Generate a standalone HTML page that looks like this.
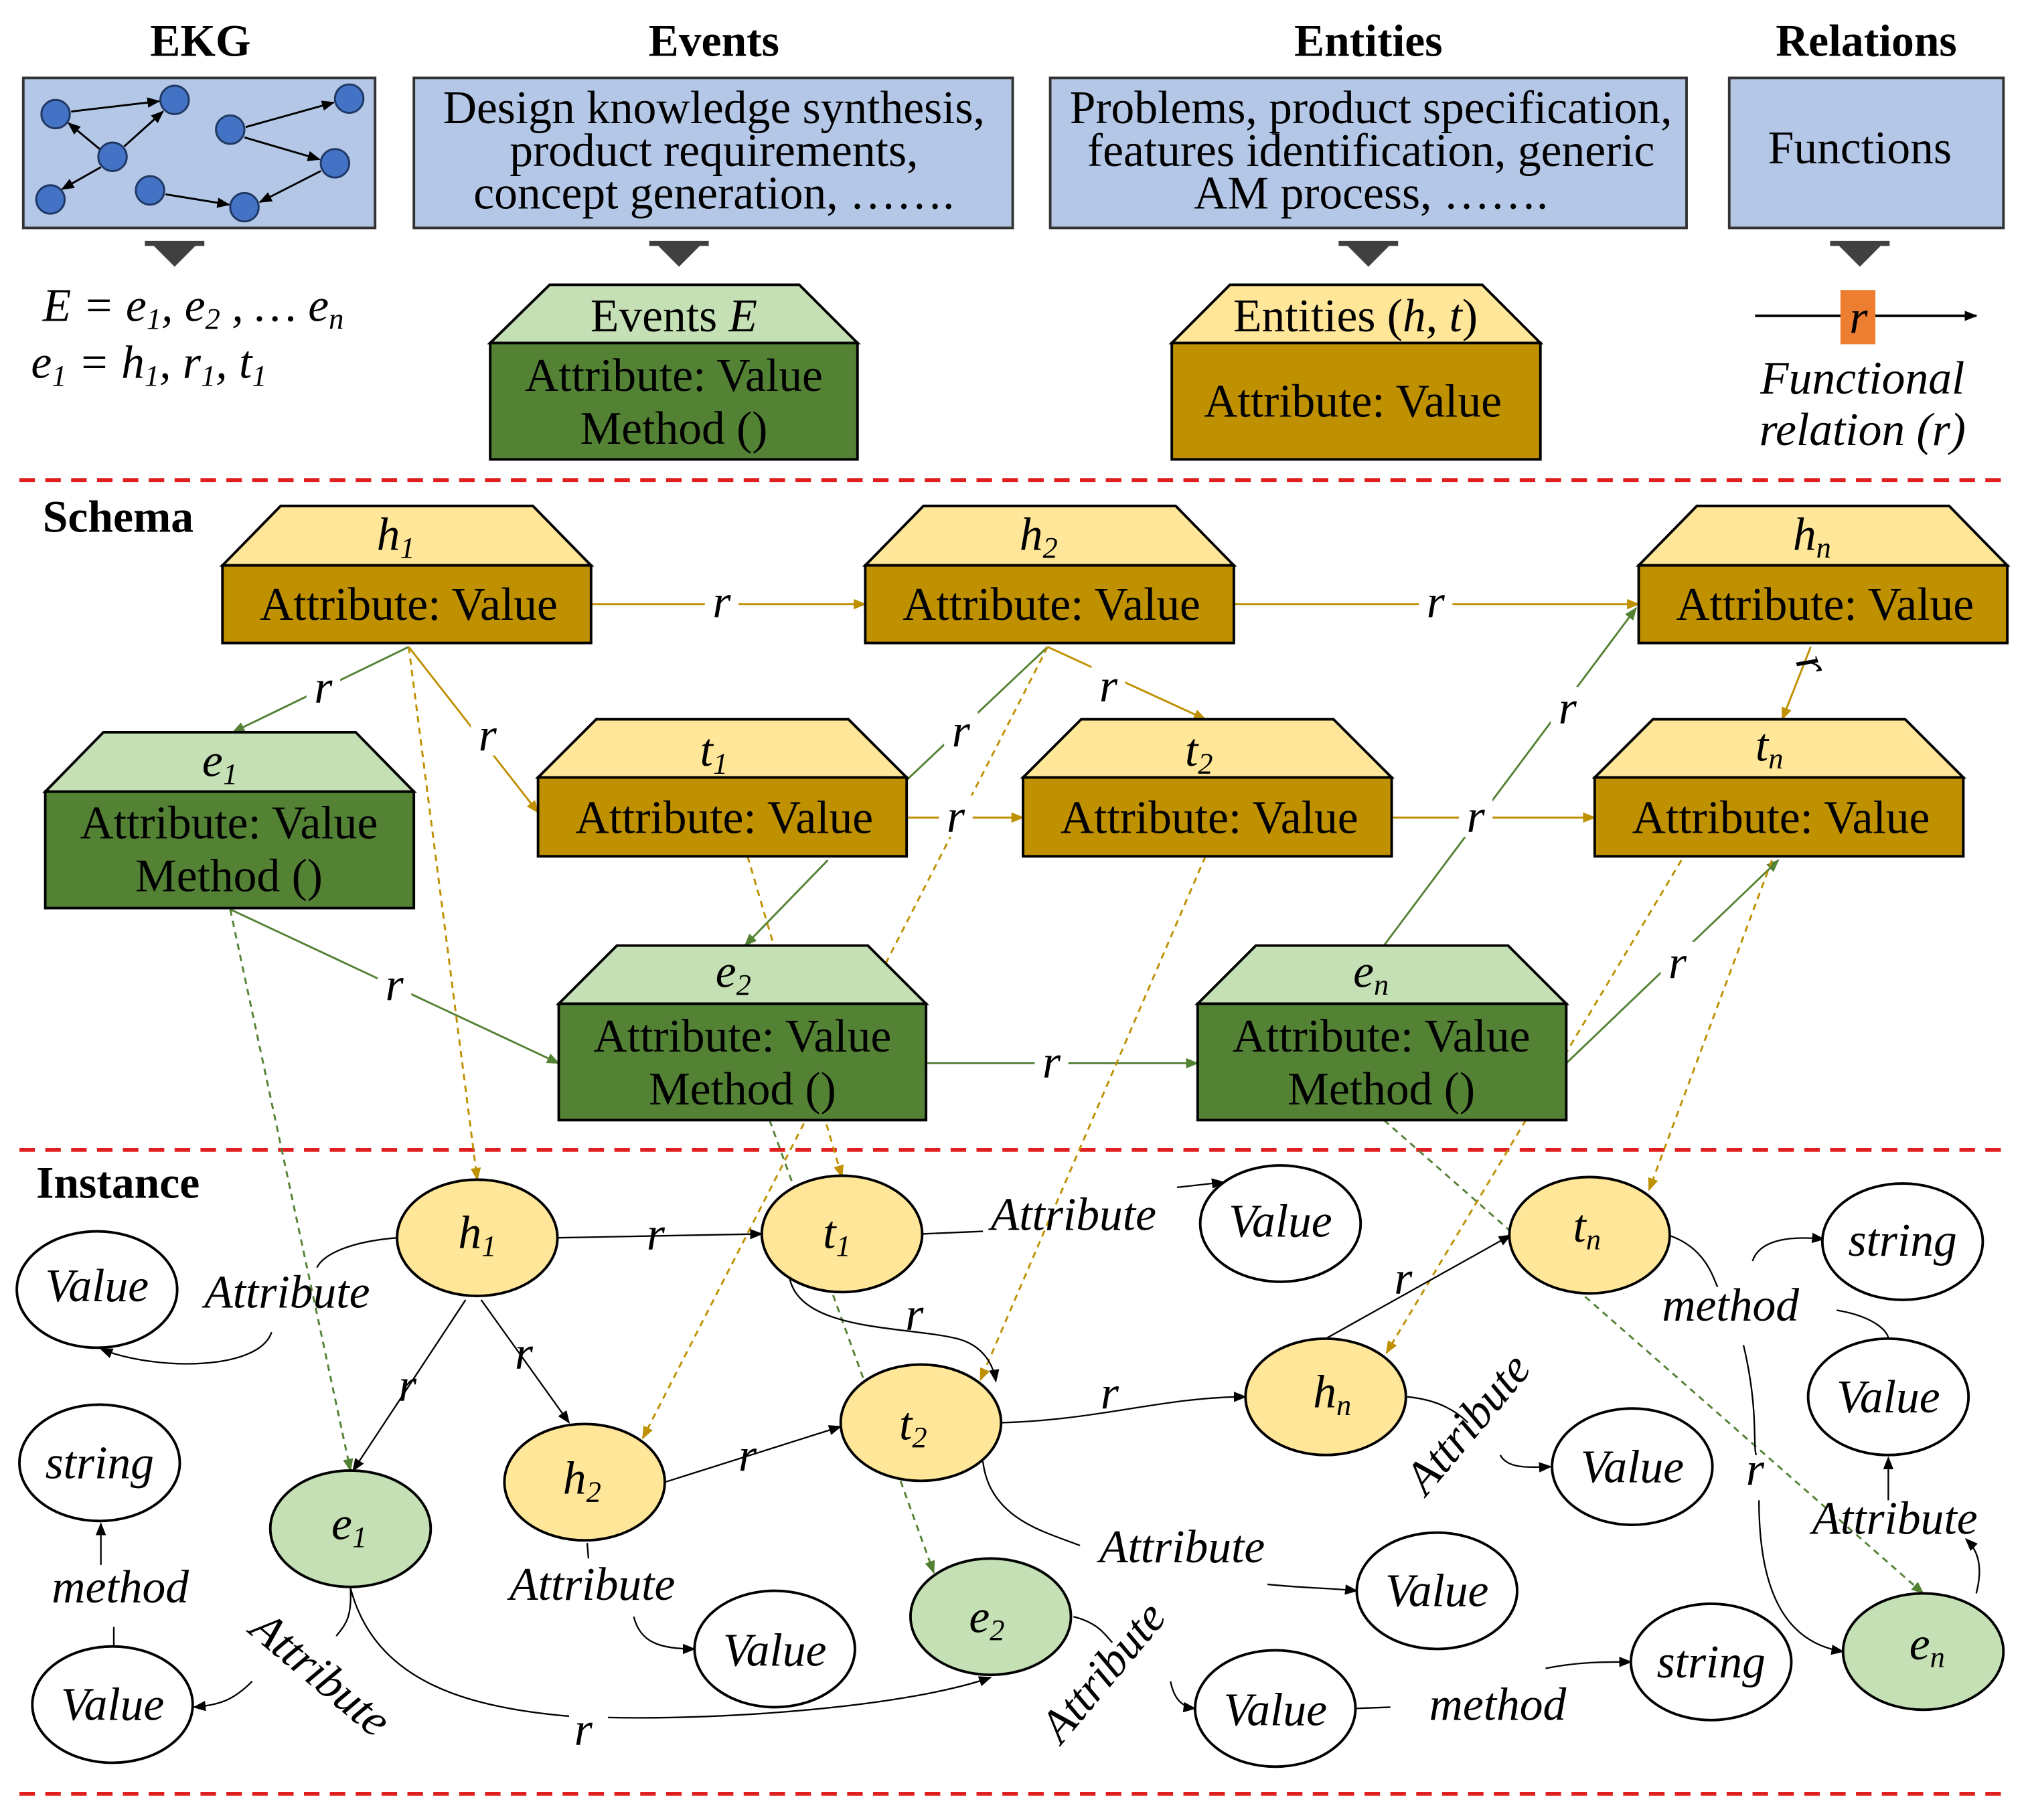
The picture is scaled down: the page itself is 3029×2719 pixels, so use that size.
<!DOCTYPE html>
<html><head><meta charset="utf-8"><style>
html,body{margin:0;padding:0;background:#fff}
svg{display:block}
text{font-family:"Liberation Serif",serif;fill:#000}
.h{font-weight:bold;font-size:35px}
.b{font-size:36px}
.i{font-style:italic;font-size:36px}
</style></head><body>
<svg width="3029" height="2719" viewBox="0 0 1568 1407" xmlns="http://www.w3.org/2000/svg">
<defs>
<marker id="ak" markerWidth="10" markerHeight="8" refX="9" refY="4" orient="auto" markerUnits="userSpaceOnUse"><path d="M0,0L10,4L0,8z" fill="#000"/></marker>
<marker id="ag" markerWidth="10" markerHeight="8" refX="9" refY="4" orient="auto" markerUnits="userSpaceOnUse"><path d="M0,0L10,4L0,8z" fill="#bf9000"/></marker>
<marker id="agr" markerWidth="10" markerHeight="8" refX="9" refY="4" orient="auto" markerUnits="userSpaceOnUse"><path d="M0,0L10,4L0,8z" fill="#548235"/></marker>
</defs>
<g text-anchor="middle"><text x="155" y="43" class="h">EKG</text><text x="552" y="43" class="h">Events</text><text x="1058" y="43" class="h">Entities</text><text x="1443" y="43" class="h">Relations</text></g>
<g fill="#b4c7e7" stroke="#333" stroke-width="2">
<rect x="18" y="60" width="272" height="116"/><rect x="320" y="60" width="463" height="116"/><rect x="812" y="60" width="492" height="116"/><rect x="1337" y="60" width="212" height="116"/></g>
<g fill="#4472c4" stroke="#1f3864" stroke-width="1.5">
<circle cx="43" cy="88" r="11"/><circle cx="135" cy="77" r="11"/><circle cx="87" cy="121" r="11"/><circle cx="39" cy="154" r="11"/><circle cx="116" cy="147" r="11"/><circle cx="189" cy="160" r="11"/><circle cx="178" cy="100" r="11"/><circle cx="270" cy="76" r="11"/><circle cx="259" cy="126" r="11"/></g>
<g stroke="#000" stroke-width="1.5" marker-end="url(#ak)">
<line x1="55" y1="86" x2="123" y2="78"/><line x1="96" y1="113" x2="126" y2="86"/><line x1="77" y1="115" x2="53" y2="95"/><line x1="78" y1="129" x2="48" y2="146"/><line x1="128" y1="150" x2="177" y2="158"/><line x1="248" y1="132" x2="201" y2="156"/><line x1="190" y1="98" x2="258" y2="79"/><line x1="189" y1="106" x2="247" y2="123"/></g>
<g class="b" text-anchor="middle"><text x="552" y="95">Design knowledge synthesis,</text><text x="552" y="128">product requirements,</text><text x="552" y="161">concept generation, …….</text>
<text x="1060" y="95">Problems, product specification,</text><text x="1060" y="128">features identification, generic</text><text x="1060" y="161">AM process, …….</text><text x="1438" y="126">Functions</text></g>
<g fill="#404040"><path d="M117,188h36l-18,18z M112,186h46v4h-46z"/><path d="M507,188h36l-18,18z M502,186h46v4h-46z"/><path d="M1040,188h36l-18,18z M1035,186h46v4h-46z"/><path d="M1420,188h36l-18,18z M1415,186h46v4h-46z"/></g>
<text x="33" y="248" class="i">E  = e<tspan font-size="23" dy="6">1</tspan><tspan dy="-6">, e</tspan><tspan font-size="23" dy="6">2</tspan><tspan dy="-6"> , … e</tspan><tspan font-size="23" dy="6">n</tspan></text>
<text x="24" y="292" class="i">e<tspan font-size="23" dy="6">1</tspan><tspan dy="-6"> = h</tspan><tspan font-size="23" dy="6">1</tspan><tspan dy="-6">, r</tspan><tspan font-size="23" dy="6">1</tspan><tspan dy="-6">, t</tspan><tspan font-size="23" dy="6">1</tspan></text>
<polygon points="425,220 618,220 663,265 379,265" fill="#c5e0b4" stroke="#000" stroke-width="2"/><rect x="379" y="265" width="284" height="90" fill="#548235" stroke="#000" stroke-width="2"/>
<text x="521" y="256" class="b" text-anchor="middle">Events <tspan font-style="italic">E</tspan></text>
<text x="521" y="302" class="b" text-anchor="middle">Attribute: Value</text><text x="521" y="343" class="b" text-anchor="middle">Method ()</text>
<polygon points="951,220 1146,220 1191,265 906,265" fill="#ffe699" stroke="#000" stroke-width="2"/><rect x="906" y="265" width="285" height="90" fill="#bf9000" stroke="#000" stroke-width="2"/>
<text x="1048" y="256" class="b" text-anchor="middle">Entities (<tspan font-style="italic">h</tspan>, <tspan font-style="italic">t</tspan>)</text>
<text x="1046" y="322" class="b" text-anchor="middle">Attribute: Value</text>
<line x1="1357" y1="244" x2="1528" y2="244" stroke="#000" stroke-width="2" marker-end="url(#ak)"/>
<rect x="1423" y="224" width="27" height="42" fill="#ed7d31"/><text x="1437" y="257" class="i" text-anchor="middle">r</text>
<text x="1440" y="304" class="i" text-anchor="middle">Functional</text><text x="1440" y="344" class="i" text-anchor="middle">relation (r)</text>
<g stroke="#e02020" stroke-width="3" stroke-dasharray="12,8"><line x1="15" y1="371" x2="1552" y2="371"/><line x1="15" y1="889" x2="1552" y2="889"/><line x1="15" y1="1387" x2="1552" y2="1387"/></g>
<text x="33" y="411" class="h">Schema</text><text x="28" y="926" class="h">Instance</text>
<g stroke="#bf9000" stroke-width="1.5" fill="none" marker-end="url(#ag)">
<line x1="457" y1="467" x2="669" y2="467"/><line x1="954" y1="467" x2="1267" y2="467"/><line x1="316" y1="500" x2="416" y2="628"/><line x1="810" y1="500" x2="932" y2="556"/><line x1="1400" y1="500" x2="1378" y2="556"/><line x1="701" y1="632" x2="791" y2="632"/><line x1="1076" y1="632" x2="1233" y2="632"/></g>
<g stroke="#548235" stroke-width="1.5" fill="none" marker-end="url(#agr)">
<line x1="316" y1="500" x2="180" y2="566"/><line x1="640" y1="665" x2="576" y2="731"/><line x1="178" y1="703" x2="432" y2="822"/><line x1="716" y1="822" x2="926" y2="822"/><line x1="1070" y1="731" x2="1265" y2="470"/><line x1="1211" y1="822" x2="1375" y2="665"/></g>
<line x1="810" y1="500" x2="701" y2="603" stroke="#548235" stroke-width="1.5"/>
<g stroke="#bf9000" stroke-width="1.5" fill="none" stroke-dasharray="5,4" marker-end="url(#ag)">
<line x1="316" y1="500" x2="369" y2="912"/><line x1="578" y1="662" x2="651" y2="910"/><line x1="810" y1="500" x2="497" y2="1112"/><line x1="932" y1="662" x2="758" y2="1067"/><line x1="1370" y1="665" x2="1275" y2="920"/><line x1="1300" y1="665" x2="1072" y2="1046"/></g>
<g stroke="#548235" stroke-width="1.5" fill="none" stroke-dasharray="5,4" marker-end="url(#agr)">
<line x1="178" y1="703" x2="271" y2="1137"/><line x1="595" y1="866" x2="722" y2="1216"/><line x1="1070" y1="866" x2="1487" y2="1232"/></g>
<g class="i" text-anchor="middle"><g fill="#fff" stroke="none"><rect x="545" y="450" width="26" height="32"/><rect x="1097" y="450" width="26" height="32"/><rect x="237" y="515" width="26" height="32"/><rect x="364" y="552" width="26" height="32"/><rect x="844" y="514" width="26" height="32"/><rect x="730" y="549" width="26" height="32"/><rect x="726" y="615" width="26" height="32"/><rect x="1128" y="615" width="26" height="32"/><rect x="292" y="745" width="26" height="32"/><rect x="800" y="805" width="26" height="32"/><rect x="1199" y="531" width="26" height="32"/><rect x="1284" y="728" width="26" height="32"/></g>
<text x="558" y="477">r</text><text x="1110" y="477">r</text><text x="250" y="543">r</text><text x="377" y="580">r</text><text x="857" y="542">r</text><text x="743" y="577">r</text><text x="739" y="643">r</text><text x="1141" y="643">r</text><text x="305" y="773">r</text><text x="813" y="833">r</text><text x="1212" y="559">r</text><text x="1297" y="756">r</text><text x="1397" y="522" transform="rotate(70 1397 515)">r</text></g>
<g stroke="#000" stroke-width="2">
<polygon points="217,391 412,391 457,437 172,437" fill="#ffe699"/><rect x="172" y="437" width="285" height="60" fill="#bf9000"/>
<polygon points="714,391 909,391 954,437 669,437" fill="#ffe699"/><rect x="669" y="437" width="285" height="60" fill="#bf9000"/>
<polygon points="1312,391 1507,391 1552,437 1267,437" fill="#ffe699"/><rect x="1267" y="437" width="285" height="60" fill="#bf9000"/>
<polygon points="461,556 656,556 701,601 416,601" fill="#ffe699"/><rect x="416" y="601" width="285" height="61" fill="#bf9000"/>
<polygon points="836,556 1031,556 1076,601 791,601" fill="#ffe699"/><rect x="791" y="601" width="285" height="61" fill="#bf9000"/>
<polygon points="1278,556 1473,556 1518,601 1233,601" fill="#ffe699"/><rect x="1233" y="601" width="285" height="61" fill="#bf9000"/>
<polygon points="80,566 275,566 320,612 35,612" fill="#c5e0b4"/><rect x="35" y="612" width="285" height="90" fill="#548235"/>
<polygon points="477,731 671,731 716,776 432,776" fill="#c5e0b4"/><rect x="432" y="776" width="284" height="90" fill="#548235"/>
<polygon points="971,731 1166,731 1211,776 926,776" fill="#c5e0b4"/><rect x="926" y="776" width="285" height="90" fill="#548235"/></g>
<g class="b" text-anchor="middle">
<text x="316" y="479">Attribute: Value</text><text x="813" y="479">Attribute: Value</text><text x="1411" y="479">Attribute: Value</text>
<text x="560" y="644">Attribute: Value</text><text x="935" y="644">Attribute: Value</text><text x="1377" y="644">Attribute: Value</text>
<text x="177" y="648">Attribute: Value</text><text x="177" y="689">Method ()</text>
<text x="574" y="813">Attribute: Value</text><text x="574" y="854">Method ()</text>
<text x="1068" y="813">Attribute: Value</text><text x="1068" y="854">Method ()</text></g>
<g class="i" text-anchor="middle">
<text x="306" y="425">h<tspan font-size="23" dy="6">1</tspan></text><text x="803" y="425">h<tspan font-size="23" dy="6">2</tspan></text><text x="1401" y="425">h<tspan font-size="23" dy="6">n</tspan></text>
<text x="552" y="592">t<tspan font-size="23" dy="6">1</tspan></text><text x="927" y="592">t<tspan font-size="23" dy="6">2</tspan></text><text x="1368" y="588">t<tspan font-size="23" dy="6">n</tspan></text>
<text x="170" y="600">e<tspan font-size="23" dy="6">1</tspan></text><text x="567" y="763">e<tspan font-size="23" dy="6">2</tspan></text><text x="1060" y="763">e<tspan font-size="23" dy="6">n</tspan></text></g>
<g stroke="#000" stroke-width="1.2" fill="none" marker-end="url(#ak)">
<path d="M431,957 L589,954"/><path d="M610,985 C615,1030 700,1025 740,1035 C760,1040 768,1055 770,1068"/>
<path d="M372,1005 L440,1100"/><path d="M360,1005 L273,1137"/><path d="M514,1146 L650,1103"/><path d="M774,1100 C850,1098 900,1080 963,1080"/><path d="M1025,1035 L1168,955"/>
<path d="M307,957 C270,960 250,970 245,980 M210,1030 C200,1060 120,1060 78,1043"/>
<path d="M713,954 L760,952 M910,918 L946,914"/>
<path d="M1290,955 C1320,965 1325,990 1328,995 M1355,975 C1360,960 1380,955 1410,958"/>
<path d="M1420,1013 C1450,1018 1460,1030 1460,1035 M1460,1160 L1460,1127"/>
<path d="M1348,1040 C1360,1090 1355,1120 1358,1125 M1360,1160 C1360,1230 1380,1270 1425,1277"/>
<path d="M1528,1232 C1535,1205 1525,1195 1520,1190"/>
<path d="M1088,1080 C1110,1082 1125,1090 1135,1100 M1160,1125 C1165,1135 1180,1135 1199,1134"/>
<path d="M760,1130 C765,1175 810,1185 835,1195 M980,1225 C1010,1228 1030,1228 1049,1230"/>
<path d="M830,1250 C850,1255 855,1265 860,1270 M905,1300 C908,1315 915,1320 924,1321"/>
<path d="M1048,1321 L1075,1320 M1195,1290 C1220,1285 1240,1285 1261,1285"/>
<path d="M454,1193 L455,1205 M490,1250 C495,1270 510,1275 537,1275"/>
<path d="M88,1273 L88,1258 M78,1210 L78,1178"/>
<path d="M271,1228 C272,1250 268,1255 260,1265 M195,1300 C180,1315 170,1318 150,1320"/>
<path d="M271,1228 C290,1300 360,1320 440,1327 M470,1328 C560,1330 700,1320 766,1297"/>
</g>
<g stroke="#000" stroke-width="2">
<g fill="#ffe699"><ellipse cx="369" cy="957" rx="62" ry="45"/><ellipse cx="651" cy="954" rx="62" ry="45"/><ellipse cx="1229" cy="955" rx="62" ry="45"/><ellipse cx="1025" cy="1080" rx="62" ry="45"/><ellipse cx="452" cy="1146" rx="62" ry="45"/><ellipse cx="712" cy="1100" rx="62" ry="45"/></g>
<g fill="#c5e0b4"><ellipse cx="271" cy="1182" rx="62" ry="45"/><ellipse cx="766" cy="1250" rx="62" ry="45"/><ellipse cx="1487" cy="1277" rx="62" ry="45"/></g>
<g fill="#fff"><ellipse cx="990" cy="946" rx="62" ry="45"/><ellipse cx="1471" cy="960" rx="62" ry="45"/><ellipse cx="75" cy="997" rx="62" ry="45"/><ellipse cx="1460" cy="1080" rx="62" ry="45"/><ellipse cx="1262" cy="1134" rx="62" ry="45"/><ellipse cx="77" cy="1131" rx="62" ry="45"/><ellipse cx="1111" cy="1230" rx="62" ry="45"/><ellipse cx="1323" cy="1285" rx="62" ry="45"/><ellipse cx="599" cy="1275" rx="62" ry="45"/><ellipse cx="87" cy="1318" rx="62" ry="45"/><ellipse cx="986" cy="1321" rx="62" ry="45"/></g></g>
<g class="i" text-anchor="middle">
<text x="369" y="965">h<tspan font-size="23" dy="6">1</tspan></text><text x="647" y="965">t<tspan font-size="23" dy="6">1</tspan></text><text x="1227" y="960">t<tspan font-size="23" dy="6">n</tspan></text><text x="1030" y="1088">h<tspan font-size="23" dy="6">n</tspan></text><text x="450" y="1155">h<tspan font-size="23" dy="6">2</tspan></text><text x="706" y="1113">t<tspan font-size="23" dy="6">2</tspan></text>
<text x="270" y="1190">e<tspan font-size="23" dy="6">1</tspan></text><text x="763" y="1262">e<tspan font-size="23" dy="6">2</tspan></text><text x="1490" y="1283">e<tspan font-size="23" dy="6">n</tspan></text>
<text x="990" y="956">Value</text><text x="1471" y="971">string</text><text x="75" y="1006">Value</text><text x="1460" y="1092">Value</text><text x="1262" y="1146">Value</text><text x="77" y="1143">string</text><text x="1111" y="1242">Value</text><text x="1323" y="1297">string</text><text x="599" y="1288">Value</text><text x="87" y="1330">Value</text><text x="986" y="1334">Value</text>
<text x="507" y="966">r</text><text x="707" y="1028">r</text><text x="405" y="1058">r</text><text x="315" y="1083">r</text><text x="578" y="1137">r</text><text x="858" y="1089">r</text><text x="1085" y="1000">r</text><text x="1357" y="1148">r</text><text x="451" y="1349">r</text>
<text x="222" y="1011">Attribute</text><text x="830" y="951">Attribute</text><text x="1338" y="1021">method</text><text x="1465" y="1186">Attribute</text><text x="914" y="1208">Attribute</text><text x="458" y="1237">Attribute</text><text x="93" y="1239">method</text><text x="1158" y="1330">method</text>
<text x="1140" y="1110" transform="rotate(-50 1140 1105)">Attribute</text>
<text x="858" y="1302" transform="rotate(-50 858 1297)">Attribute</text>
<text x="245" y="1305" transform="rotate(40 245 1298)">Attribute</text></g>
</svg>
</body></html>
